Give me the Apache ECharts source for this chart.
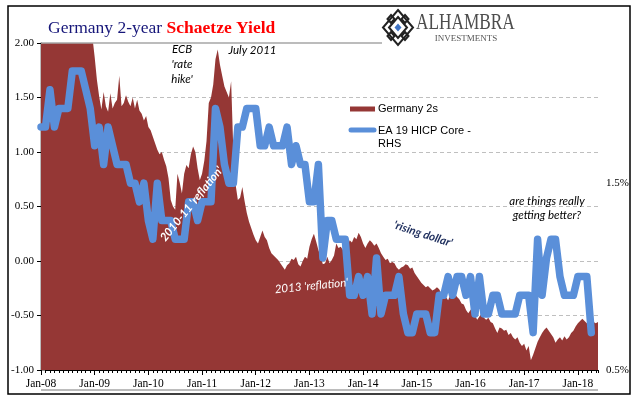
<!DOCTYPE html>
<html>
<head>
<meta charset="utf-8">
<style>
  html, body { margin: 0; padding: 0; background: #fff; }
  #chart { width: 641px; height: 401px; }
</style>
<script src="https://cdn.jsdelivr.net/npm/echarts@6/dist/echarts.min.js"></script>
</head>
<body>
<div id="chart"></div>
<script>
// x axis runs in months since Jan-08
const yearLabels = ['Jan-08', 'Jan-09', 'Jan-10', 'Jan-11', 'Jan-12', 'Jan-13',
    'Jan-14', 'Jan-15', 'Jan-16', 'Jan-17', 'Jan-18'];
const lastMonth = 124.5;

// Germany 2-year yield, one value every half month (LHS)
const yieldStep = 0.5;
const germany2s = [
    // 2008
    3.9, 3.6, 3.3, 3.1, 3.2, 3.4, 3.5, 3.8, 4.0, 4.1, 4.5, 4.6,
    4.6, 4.4, 4.2, 3.9, 3.8, 3.6, 3.5, 3.0, 2.9, 2.6, 2.3, 2.05,
    // 2009
    1.87, 1.66, 1.51, 1.39, 1.55, 1.42, 1.37, 1.54, 1.40, 1.45, 1.48, 1.70,
    1.42, 1.45, 1.52, 1.46, 1.42, 1.50, 1.40, 1.48, 1.38, 1.35, 1.29, 1.33,
    // 2010
    1.23, 1.20, 1.14, 1.08, 1.02, 0.98, 1.00, 0.93, 0.87, 0.76, 0.56, 0.50,
    0.47, 0.80, 0.72, 0.62, 0.80, 0.88, 0.85, 0.98, 1.05, 1.00, 0.85, 0.74,
    // 2011
    0.80, 0.92, 1.10, 1.45, 1.50, 1.62, 1.85, 1.94, 1.80, 1.70, 1.60, 1.55,
    1.50, 1.65, 1.00, 0.70, 0.56, 0.58, 0.68, 0.55, 0.44, 0.36, 0.30, 0.24,
    // 2012
    0.19, 0.16, 0.22, 0.28, 0.22, 0.19, 0.12, 0.07, 0.05, 0.03, 0.01, -0.02,
    -0.05, -0.08, -0.04, -0.02, 0.02, 0.01, 0.04, -0.03, -0.05, 0.00, 0.04, 0.02,
    // 2013
    0.13, 0.20, 0.25, 0.18, 0.10, 0.04, -0.03, -0.02, 0.04, -0.02, 0.01, 0.05,
    0.16, 0.12, 0.13, 0.10, 0.16, 0.14, 0.19, 0.17, 0.22, 0.20, 0.26, 0.22,
    // 2014
    0.16, 0.12, 0.16, 0.19, 0.17, 0.14, 0.16, 0.12, 0.07, 0.04, 0.01, 0.02,
    -0.02, -0.01, -0.02, -0.06, -0.08, -0.06, -0.05, -0.03, -0.04, -0.07, -0.06, -0.11,
    // 2015
    -0.14, -0.17, -0.20, -0.22, -0.24, -0.23, -0.25, -0.27, -0.26, -0.24, -0.26, -0.30,
    -0.27, -0.33, -0.36, -0.31, -0.33, -0.30, -0.33, -0.35, -0.39, -0.40, -0.45, -0.48,
    // 2016
    -0.45, -0.42, -0.50, -0.54, -0.51, -0.48, -0.52, -0.54, -0.52, -0.56, -0.57, -0.62,
    -0.66, -0.61, -0.62, -0.64, -0.63, -0.68, -0.66, -0.70, -0.72, -0.70, -0.75, -0.78,
    // 2017
    -0.76, -0.82, -0.78, -0.91, -0.86, -0.80, -0.74, -0.70, -0.66, -0.63, -0.61, -0.64,
    -0.67, -0.70, -0.75, -0.72, -0.70, -0.73, -0.69, -0.72, -0.70, -0.66, -0.64, -0.60,
    // 2018
    -0.57, -0.55, -0.53, -0.55, -0.57, -0.58, -0.59, -0.56, -0.57, -0.56
];

// EA 19 HICP core, monthly, % y/y (RHS)
const hicpCore = [
    1.8, 1.8, 2.0, 1.8, 1.9, 1.9, 1.9, 2.1, 2.1, 2.1, 2.0, 1.9,
    1.7, 1.8, 1.6, 1.8, 1.7, 1.6, 1.6, 1.6, 1.5, 1.5, 1.4, 1.5,
    1.3, 1.2, 1.5, 1.3, 1.3, 1.3, 1.2, 1.2, 1.2, 1.4, 1.4, 1.3,
    1.4, 1.4, 1.4, 1.9, 1.8, 1.6, 1.5, 1.5, 1.8, 1.8, 1.9, 1.9,
    1.9, 1.7, 1.7, 1.8, 1.7, 1.7, 1.7, 1.8, 1.6, 1.7, 1.6, 1.6,
    1.4, 1.4, 1.6, 1.1, 1.3, 1.3, 1.2, 1.2, 1.2, 0.9, 0.9, 1.0,
    0.9, 1.0, 0.8, 1.1, 0.8, 0.9, 0.9, 0.9, 1.0, 0.8, 0.7, 0.7,
    0.8, 0.8, 0.8, 0.7, 0.7, 0.9, 0.9, 1.0, 0.9, 1.0, 1.0, 0.9,
    1.0, 0.8, 1.0, 0.8, 0.8, 0.9, 0.9, 0.8, 0.8, 0.8, 0.8, 0.9,
    0.9, 0.9, 0.7, 1.2, 0.9, 1.1, 1.2, 1.2, 1.0, 0.9, 0.9, 0.9,
    1.0, 1.0, 1.0, 0.7
];

const RED = '#953735';
const BLUE = '#5A8FD9';
const NAVY = '#17177a';
const SERIF = '"Liberation Serif", "DejaVu Serif", serif';
const NOTE = 'Lato, "Open Sans", sans-serif';
const SANS = '"Liberation Sans", Arial, sans-serif';

const chart = echarts.init(document.getElementById('chart'));

function note(text, x, y, fill, weight, rotation) {
    return {
        type: 'text',
        x: x,
        y: y,
        z: 20,
        rotation: (rotation || 0) * Math.PI / 180,
        style: {
            text: text,
            fill: fill || '#000',
            font: 'italic ' + (weight || 'normal') + ' 11.5px ' + NOTE,
            textAlign: 'center', align: 'center',
            textVerticalAlign: 'middle', verticalAlign: 'middle'
        }
    };
}

function label(text, x, y, font, fill, align) {
    return {
        type: 'text',
        x: x,
        y: y,
        z: 20,
        style: {
            text: text, font: font, fill: fill,
            textAlign: align || 'left', align: align || 'left',
            textVerticalAlign: 'middle', verticalAlign: 'middle'
        }
    };
}

function diamond(cx, cy, rx, ry, style) {
    return {
        type: 'polygon',
        z: 20,
        shape: { points: [[cx, cy - ry], [cx + rx, cy], [cx, cy + ry], [cx - rx, cy]] },
        style: style
    };
}

const logoStroke = { fill: 'none', stroke: '#222', lineWidth: 2 };

chart.setOption({
    animation: false,
    backgroundColor: '#fff',
    grid: { left: 41, right: 43, top: 43, bottom: 31 },
    xAxis: [{
        type: 'value',
        min: 0,
        max: lastMonth,
        interval: 12,
        axisLine: { onZero: false, lineStyle: { color: '#000', width: 1 } },
        axisTick: { length: 5, lineStyle: { color: '#000' } },
        splitLine: { show: false },
        axisLabel: {
            margin: 8,
            color: '#000',
            fontFamily: SERIF,
            fontSize: 11.5,
            showMaxLabel: false,
            formatter: v => (v % 12 === 0 ? yearLabels[v / 12] : '')
        }
    }, {
        // monthly minor ticks
        type: 'value',
        min: 0,
        max: lastMonth,
        interval: 1,
        position: 'bottom',
        axisLine: { show: false, onZero: false },
        axisTick: { length: 3, lineStyle: { color: '#000' } },
        axisLabel: { show: false },
        splitLine: { show: false }
    }],
    yAxis: [{
        type: 'value',
        min: -1,
        max: 2,
        interval: 0.5,
        axisLine: { show: true, lineStyle: { color: '#000' } },
        axisTick: { show: true, length: 4, lineStyle: { color: '#000' } },
        axisLabel: {
            margin: 7,
            color: '#000',
            fontFamily: SERIF,
            fontSize: 11,
            formatter: v => v.toFixed(2)
        },
        splitLine: {
            show: true,
            showMinLine: false,
            showMaxLine: false,
            lineStyle: { color: '#bfbfbf', type: [4, 3], width: 1 }
        }
    }, {
        type: 'value',
        min: 0.5,
        max: 2.25,
        interval: 1,
        position: 'right',
        axisLine: { show: true, lineStyle: { color: '#a6a6a6', width: 1.5 } },
        axisTick: { show: true, length: 4, lineStyle: { color: '#888' } },
        axisLabel: {
            margin: 8,
            color: '#000',
            fontFamily: SERIF,
            fontSize: 11,
            showMaxLabel: false,
            formatter: v => (Math.abs(v % 1 - 0.5) < 1e-6 ? v.toFixed(1) + '%' : '')
        },
        splitLine: { show: false }
    }],
    series: [{
        name: 'Germany 2s',
        type: 'line',
        xAxisIndex: 0,
        yAxisIndex: 0,
        showSymbol: false,
        clip: true,
        lineStyle: { width: 0 },
        areaStyle: { color: RED, opacity: 1, origin: 'start' },
        data: germany2s.map((v, i) => [i * yieldStep, v])
    }, {
        name: 'EA 19 HICP Core - RHS',
        type: 'line',
        xAxisIndex: 0,
        yAxisIndex: 1,
        showSymbol: false,
        lineStyle: { color: BLUE, width: 7.5, cap: 'round', join: 'round' },
        data: hicpCore.map((v, i) => [i, v])
    }],
    graphic: [
        // outer frame and plot borders
        { type: 'rect', z: 1, shape: { x: 8, y: 6, width: 622, height: 388 },
          style: { fill: 'none', stroke: '#000', lineWidth: 1.5 } },
        { type: 'line', z: 20, shape: { x1: 41, y1: 43, x2: 382, y2: 43 },
          style: { stroke: '#a6a6a6', lineWidth: 1.5 } },
        { type: 'line', z: 20, shape: { x1: 41, y1: 390, x2: 598, y2: 390 },
          style: { stroke: '#a6a6a6', lineWidth: 1.5 } },

        // title
        { type: 'text', x: 48, y: 28, z: 20, style: {
            text: '{a|Germany 2-year }{b|Schaetze Yield}',
            textVerticalAlign: 'middle', verticalAlign: 'middle',
            rich: {
                a: { font: '17.5px ' + SERIF, fill: NAVY },
                b: { font: 'bold 17.5px ' + SERIF, fill: '#ff0000' }
            }
        } },

        // logo
        diamond(398, 27.5, 15, 17.5, logoStroke),
        diamond(398, 27.5, 9, 10.5, logoStroke),
        diamond(391, 19, 3.5, 4, logoStroke),
        diamond(405, 19, 3.5, 4, logoStroke),
        diamond(391, 36, 3.5, 4, logoStroke),
        diamond(405, 36, 3.5, 4, logoStroke),
        diamond(398, 27.5, 3.5, 4, { fill: '#3e73c4', stroke: 'none' }),
        { type: 'text', x: 416, y: 23, z: 20, scaleX: 0.75, originX: 0, originY: 0, style: {
            text: 'ALHAMBRA', font: '23px ' + SERIF, fill: '#4d4d4d',
            textVerticalAlign: 'middle', verticalAlign: 'middle'
        } },
        label('INVESTMENTS', 466, 38.5, '9px ' + SERIF, '#555', 'center'),

        // legend
        { type: 'rect', z: 20, shape: { x: 350, y: 106.5, width: 25, height: 5 }, style: { fill: RED } },
        { type: 'line', z: 20, shape: { x1: 351, y1: 130, x2: 374, y2: 130 },
          style: { stroke: BLUE, lineWidth: 5, lineCap: 'round' } },
        label('Germany 2s', 378, 108.5, '11px ' + SANS, '#000'),
        label('EA 19 HICP Core -', 378, 130.5, '11px ' + SANS, '#000'),
        label('RHS', 378, 143.5, '11px ' + SANS, '#000'),

        // annotations
        note('ECB', 182, 49),
        note("'rate", 182, 64),
        note("hike'", 182, 79),
        note('July 2011', 252.5, 50),
        note("2010-11 'reflation'", 191.5, 204, '#fff', 'bold', 51),
        note("2013 'reflation'", 311.5, 286, '#fff', 'normal', 5.5),
        note("'rising dollar'", 423, 234, '#1f2f5e', 'bold', -18),
        note('are things really', 547, 201),
        note('getting better?', 547, 215)
    ]
});
</script>
</body>
</html>
